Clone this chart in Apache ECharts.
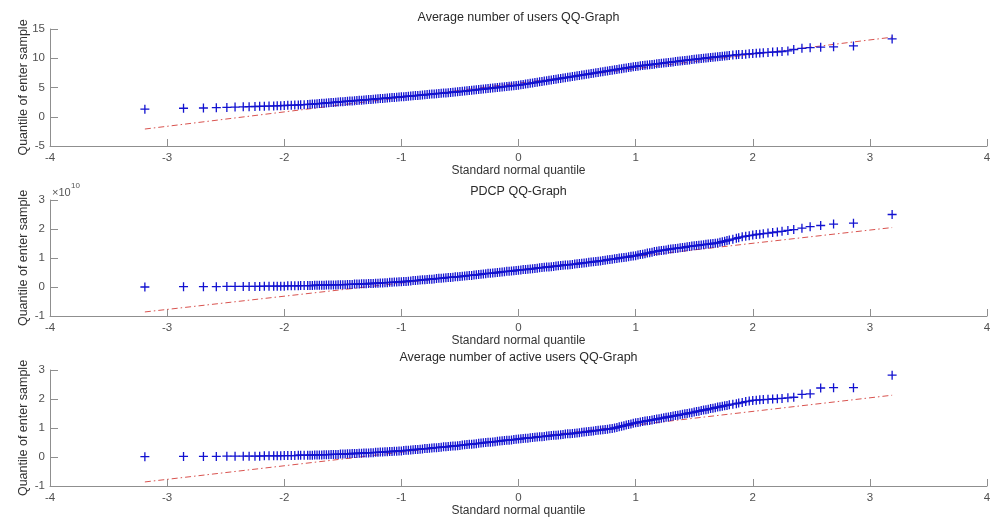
<!DOCTYPE html>
<html>
<head>
<meta charset="utf-8">
<script src="https://cdn.jsdelivr.net/npm/echarts@6/dist/echarts.min.js"></script>
<style>
html,body{margin:0;padding:0;background:#fff;}
#chart{width:995px;height:519px;}
</style>
</head>
<body>
<div id="chart"></div>
<script>
// Theoretical standard normal quantiles (shared x values of the three QQ plots)
const qx = [
-3.19,-2.86,-2.69,-2.58,-2.49,-2.42,-2.35,-2.30,-2.25,-2.21,-2.17,-2.13,-2.09,-2.06,-2.03,-2.00,-1.97,-1.94,-1.91,-1.88,-1.86,-1.83,
-1.80,-1.78,-1.76,-1.74,-1.72,-1.70,-1.68,-1.66,-1.64,-1.62,-1.60,-1.58,-1.56,-1.54,-1.52,-1.50,-1.48,-1.46,-1.44,-1.42,-1.40,
-1.38,-1.36,-1.34,-1.32,-1.30,-1.28,-1.26,-1.24,-1.22,-1.20,-1.18,-1.16,-1.14,-1.12,-1.10,-1.08,-1.06,-1.04,-1.02,-1.00,
-0.98,-0.96,-0.94,-0.92,-0.90,-0.88,-0.86,-0.84,-0.82,-0.80,-0.78,-0.76,-0.74,-0.72,-0.70,-0.68,-0.66,-0.64,-0.62,-0.60,
-0.58,-0.56,-0.54,-0.52,-0.50,-0.48,-0.46,-0.44,-0.42,-0.40,-0.38,-0.36,-0.34,-0.32,-0.30,-0.28,-0.26,-0.24,-0.22,-0.20,
-0.18,-0.16,-0.14,-0.12,-0.10,-0.08,-0.06,-0.04,-0.02,0.00,
0.02,0.04,0.06,0.08,0.10,0.12,0.14,0.16,0.18,0.20,0.22,0.24,0.26,0.28,0.30,0.32,0.34,0.36,0.38,0.40,
0.42,0.44,0.46,0.48,0.50,0.52,0.54,0.56,0.58,0.60,0.62,0.64,0.66,0.68,0.70,0.72,0.74,0.76,0.78,0.80,
0.82,0.84,0.86,0.88,0.90,0.92,0.94,0.96,0.98,1.00,
1.02,1.04,1.06,1.08,1.10,1.12,1.14,1.16,1.18,1.20,1.22,1.24,1.26,1.28,1.30,1.32,1.34,1.36,1.38,1.40,
1.42,1.44,1.46,1.48,1.50,1.52,1.54,1.56,1.58,1.60,1.62,1.64,1.66,1.68,1.70,1.72,1.74,1.76,1.78,1.80,
1.83,1.86,1.88,1.91,1.94,1.97,2.00,2.03,2.06,2.09,2.13,2.17,2.21,2.25,2.30,2.35,2.42,2.49,2.58,2.69,2.86,3.19
];

// Sample quantiles: Average number of users
const usersQ = [
1.30,1.45,1.50,1.55,1.60,1.65,1.70,1.72,1.75,1.78,1.80,1.82,1.85,1.87,1.90,1.92,1.95,1.97,2.00,2.02,2.04,2.07,
2.10,2.13,2.16,2.19,2.23,2.26,2.29,2.32,2.36,2.39,2.42,2.45,2.49,2.52,2.55,2.58,2.62,2.65,2.68,2.71,2.75,
2.78,2.81,2.84,2.88,2.91,2.94,2.97,3.01,3.04,3.07,3.10,3.14,3.17,3.20,3.23,3.27,3.30,3.33,3.36,3.40,
3.44,3.47,3.51,3.54,3.58,3.62,3.65,3.69,3.72,3.76,3.80,3.83,3.87,3.90,3.94,3.98,4.01,4.05,4.08,4.12,
4.16,4.19,4.23,4.26,4.30,4.34,4.39,4.43,4.48,4.52,4.56,4.61,4.65,4.70,4.74,4.78,4.83,4.87,4.92,4.96,
5.00,5.05,5.09,5.14,5.18,5.22,5.27,5.31,5.36,5.40,
5.46,5.53,5.59,5.66,5.72,5.78,5.85,5.91,5.98,6.04,6.10,6.17,6.23,6.30,6.36,6.42,6.49,6.55,6.62,6.68,
6.74,6.81,6.87,6.94,7.00,7.06,7.13,7.19,7.26,7.32,7.38,7.45,7.51,7.58,7.64,7.70,7.77,7.83,7.90,7.96,
8.02,8.09,8.15,8.22,8.28,8.34,8.41,8.47,8.54,8.60,
8.65,8.70,8.75,8.80,8.84,8.89,8.94,8.99,9.04,9.09,9.14,9.19,9.24,9.29,9.33,9.38,9.43,9.48,9.53,9.58,
9.62,9.67,9.72,9.77,9.81,9.86,9.90,9.95,9.99,10.04,10.08,10.12,10.17,10.21,10.25,10.29,10.34,10.38,10.42,10.46,
10.55,10.60,10.62,10.66,10.70,10.75,10.80,10.85,10.90,10.95,11.00,11.05,11.10,11.15,11.25,11.50,11.70,11.80,11.90,11.95,12.10,13.30
];

// Sample quantiles: PDCP (x 10^10)
const pdcpQ = [
0.00,0.01,0.01,0.01,0.02,0.02,0.02,0.02,0.02,0.02,0.03,0.03,0.03,0.03,0.03,0.03,0.04,0.04,0.04,0.04,0.05,0.05,
0.05,0.05,0.05,0.06,0.06,0.06,0.06,0.06,0.07,0.07,0.07,0.07,0.07,0.08,0.08,0.08,
0.08,0.09,0.09,0.09,0.10,0.10,0.10,0.11,0.11,0.11,0.12,0.12,0.12,0.13,0.13,
0.14,0.14,0.15,0.15,0.16,0.16,0.17,0.17,0.18,0.18,
0.19,0.19,0.20,0.21,0.22,0.22,0.23,0.24,0.25,0.25,0.26,0.27,0.27,0.28,0.29,0.30,0.30,0.31,0.32,0.33,0.33,0.34,0.35,0.35,0.36,
0.37,0.38,0.39,0.40,0.40,0.41,0.42,0.43,0.44,0.45,0.46,0.47,0.47,0.48,0.49,0.50,0.51,0.52,0.53,0.54,0.54,0.55,0.56,0.57,0.58,
0.59,0.60,0.60,0.61,0.62,0.63,0.64,0.65,0.66,0.67,0.68,0.69,0.69,0.70,0.71,0.72,0.73,0.74,0.75,0.76,0.76,0.77,0.78,0.79,0.80,
0.81,0.82,0.83,0.84,0.85,0.86,0.87,0.88,0.89,0.90,
0.91,0.92,0.94,0.95,0.96,0.97,0.98,1.00,1.01,1.02,1.03,1.04,1.06,1.07,1.08,
1.10,1.12,1.13,1.15,1.17,1.18,1.20,1.22,1.23,1.25,
1.26,1.27,1.28,1.30,1.31,1.32,1.33,1.34,1.35,1.36,1.37,1.39,1.40,1.41,1.42,
1.43,1.44,1.45,1.46,1.47,1.48,1.49,1.50,1.51,1.52,
1.54,1.56,1.58,1.60,1.62,
1.65,1.68,1.70,1.73,1.75,1.77,1.79,1.81,1.82,1.84,1.86,1.88,1.90,1.92,1.95,1.98,2.03,2.08,2.12,2.17,2.20,2.50
];

// Sample quantiles: Average number of active users
const activeQ = [
0.01,0.02,0.02,0.02,0.03,0.03,0.03,0.03,0.03,0.03,0.04,0.04,0.04,0.04,0.04,0.05,0.05,0.05,0.05,0.06,0.06,0.06,
0.06,0.06,0.06,0.07,0.07,0.07,0.07,0.08,0.08,0.08,0.09,0.09,0.09,0.09,0.10,0.10,
0.10,0.11,0.11,0.12,0.12,0.12,0.13,0.13,0.14,0.14,0.14,0.15,0.15,0.16,0.16,
0.17,0.17,0.18,0.18,0.19,0.19,0.20,0.20,0.21,0.21,
0.22,0.23,0.23,0.24,0.25,0.26,0.26,0.27,0.28,0.29,0.29,0.30,0.31,0.32,0.32,0.33,0.34,0.35,0.35,0.36,0.37,0.38,0.38,0.39,0.40,
0.41,0.42,0.43,0.44,0.44,0.45,0.46,0.47,0.48,0.49,0.50,0.51,0.51,0.52,0.53,0.54,0.55,0.56,0.57,0.58,0.58,0.59,0.60,0.61,0.62,
0.63,0.64,0.65,0.65,0.66,0.67,0.68,0.69,0.70,0.70,0.71,0.72,0.73,0.74,0.75,0.75,0.76,0.77,0.78,0.79,0.80,0.80,0.81,0.82,0.83,
0.84,0.85,0.86,0.87,0.88,0.89,0.90,0.91,0.92,0.93,0.94,0.95,0.96,0.97,0.98,
1.00,1.02,1.04,1.06,1.08,1.10,1.12,1.14,1.16,1.18,
1.19,1.21,1.22,1.24,1.25,1.26,1.28,1.29,1.31,1.32,
1.34,1.35,1.37,1.38,1.40,1.41,1.43,1.44,1.46,1.47,1.49,1.50,1.52,1.53,1.55,
1.57,1.58,1.60,1.62,1.63,1.65,1.67,1.68,1.70,1.72,1.73,1.75,1.77,1.78,1.80,
1.82,1.84,1.86,1.88,1.91,1.93,1.95,1.96,1.97,1.98,1.99,2.00,2.01,2.02,2.04,2.06,2.16,2.18,2.38,2.39,2.39,2.82
];

// Reference (red dash-dot) lines: endpoints
const refX = [-3.19, 3.19];
const usersRef = [-2.1, 13.6];
const pdcpRef = [-0.86, 2.05];
const activeRef = [-0.86, 2.13];

const titles = ['Average number of users QQ-Graph', 'PDCP QQ-Graph', 'Average number of active users QQ-Graph'];
const xName = 'Standard normal quantile';
const yName = 'Quantile of enter sample';

const FONT = '"Liberation Sans", Arial, sans-serif';
const axisCol = '#8f8f8f';
const labCol = '#505050';
const blue = '#1212d0';
const cross = 'path://M5,0L5,10M0,5L10,5';

const grids = [
  {left: 50, top: 29, width: 937, height: 117},
  {left: 50, top: 200, width: 937, height: 116},
  {left: 50, top: 370, width: 937, height: 116}
];
const titleTops = [11, 185, 351];
const yRanges = [[-5, 15, 5], [-1, 3, 1], [-1, 3, 1]];
const sets = [usersQ, pdcpQ, activeQ];
const refs = [usersRef, pdcpRef, activeRef];

const option = {
  animation: false,
  backgroundColor: '#ffffff',
  textStyle: {fontFamily: FONT},
  title: titles.map((t, i) => ({
    text: t, left: 518.5, top: titleTops[i], textAlign: 'center', padding: 0,
    textStyle: {fontFamily: FONT, fontSize: 12.5, fontWeight: 'normal', color: '#2a2a2a'}
  })),
  grid: grids,
  xAxis: grids.map((g, i) => ({
    type: 'value', gridIndex: i, min: -4, max: 4, interval: 1,
    name: xName, nameLocation: 'middle', nameGap: 19, nameMoveOverlap: false,
    nameTextStyle: {fontFamily: FONT, fontSize: 12, color: '#333'},
    axisLine: {onZero: false, lineStyle: {color: axisCol, width: 1}},
    axisTick: {inside: true, length: 7, lineStyle: {color: axisCol}},
    axisLabel: {fontFamily: FONT, fontSize: 11.5, color: labCol, margin: 6},
    splitLine: {show: false}
  })),
  yAxis: grids.map((g, i) => ({
    type: 'value', gridIndex: i, min: yRanges[i][0], max: yRanges[i][1], interval: yRanges[i][2],
    name: yName, nameLocation: 'middle', nameGap: 20, nameRotate: 90, nameMoveOverlap: false,
    nameTextStyle: {fontFamily: FONT, fontSize: 12.5, color: '#333'},
    axisLine: {show: true, onZero: false, lineStyle: {color: axisCol, width: 1}},
    axisTick: {show: true, inside: true, length: 8, lineStyle: {color: axisCol}},
    axisLabel: {fontFamily: FONT, fontSize: 11.5, color: labCol, margin: 5},
    splitLine: {show: false}
  })),
  series: []
};

sets.forEach((ys, i) => {
  option.series.push({
    type: 'line', xAxisIndex: i, yAxisIndex: i, z: 1,
    data: refX.map((x, k) => [x, refs[i][k]]),
    symbol: 'none', silent: true,
    lineStyle: {color: '#d9534f', width: 1, type: [6, 3, 1.5, 3]}
  });
  option.series.push({
    type: 'scatter', xAxisIndex: i, yAxisIndex: i, z: 2,
    data: qx.map((x, k) => [x, ys[k]]),
    symbol: cross, symbolSize: 9, silent: true,
    itemStyle: {color: 'rgba(0,0,0,0)', borderColor: blue, borderWidth: 1.3, opacity: 1}
  });
});

option.graphic = [
  {type: 'text', left: 52, top: 187, style: {text: '\u00d710', font: '11px ' + FONT, fill: '#555'}},
  {type: 'text', left: 71, top: 182, style: {text: '10', font: '8px ' + FONT, fill: '#555'}}
];

const chart = echarts.init(document.getElementById('chart'), null, {renderer: 'canvas'});
chart.setOption(option);
</script>
</body>
</html>
